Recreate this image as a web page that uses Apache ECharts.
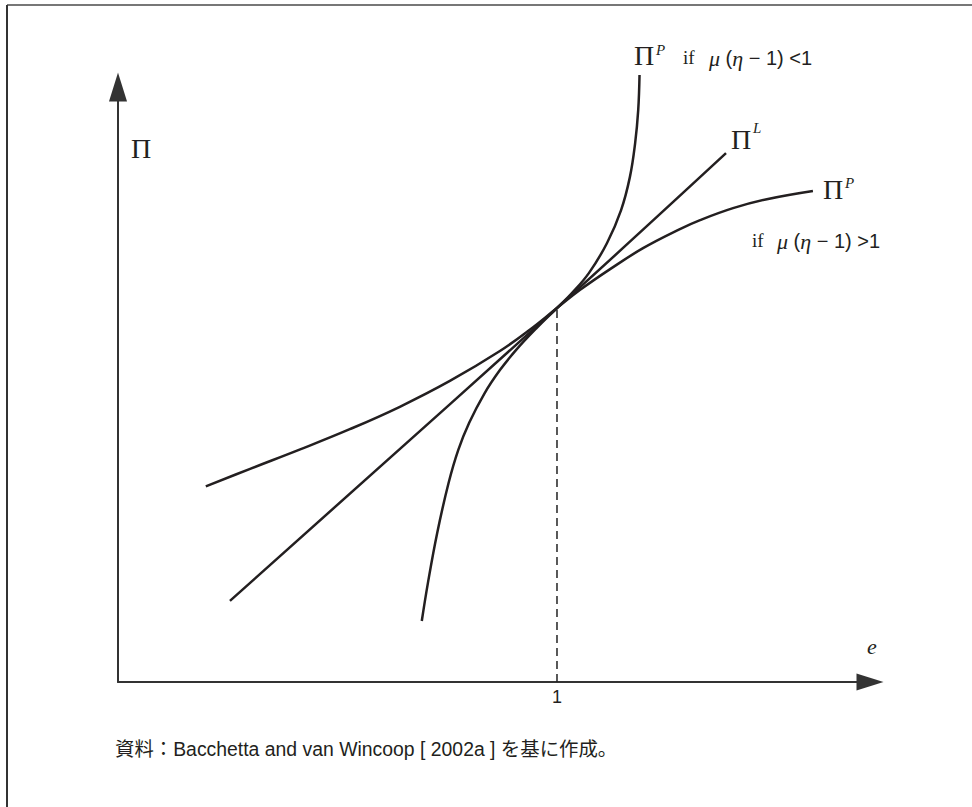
<!DOCTYPE html>
<html>
<head>
<meta charset="utf-8">
<script src="https://cdn.jsdelivr.net/npm/echarts@6/dist/echarts.min.js"></script>
<style>
  html, body { margin: 0; padding: 0; background: #fff; }
  #chart { width: 972px; height: 807px; }
</style>
</head>
<body>
<div id="chart"></div>
<script>
// flatter profit curve, if mu(eta-1) > 1
const flatX = [0.200, 0.301, 0.415, 0.528, 0.642, 0.756, 0.870, 0.938, 1.000, 1.052, 1.121, 1.196, 1.280, 1.326, 1.401, 1.478, 1.583]
const flatY = [0.523, 0.570, 0.622, 0.676, 0.736, 0.805, 0.885, 0.942, 1.000, 1.048, 1.104, 1.160, 1.211, 1.235, 1.267, 1.291, 1.313]
// steeper profit curve, if mu(eta-1) < 1
const steepX = [0.692, 0.706, 0.727, 0.753, 0.775, 0.800, 0.834, 0.870, 0.907, 0.954, 1.000, 1.034, 1.073, 1.114, 1.146, 1.166, 1.178, 1.185, 1.188]
const steepY = [0.163, 0.265, 0.398, 0.532, 0.620, 0.693, 0.770, 0.834, 0.888, 0.947, 1.000, 1.040, 1.094, 1.174, 1.262, 1.350, 1.441, 1.529, 1.623]
// local currency pricing line
const linX = [0.255, 1.000, 1.385]
const linY = [0.217, 1.000, 1.414]
// the e = 1 guide
const guideX = [1, 1]
const guideY = [0, 1]
const tickLabels = { 1: '1' }

const ink = '#231f20'
const serif = '"Liberation Serif", "DejaVu Serif", serif'
const sans = '"Liberation Sans", Arial, sans-serif'

function pairs(xs, ys) {
  return xs.map((x, i) => [x, ys[i]])
}

const myChart = echarts.init(document.getElementById('chart'), null, { renderer: 'svg' })

const curve = (name, data) => ({
  name: name,
  type: 'line',
  data: data,
  smooth: 0.4,
  symbol: 'none',
  clip: false,
  lineStyle: { color: ink, width: 2.5 },
  silent: true
})

const mathRich = {
  m: { fontFamily: serif, fontStyle: 'italic', fontSize: 22, fill: ink },
  s: { fontFamily: sans, fontSize: 20, fill: ink }
}

const option = {
  animation: false,
  backgroundColor: '#fff',
  grid: {
    left: 118,
    top: 87,
    width: 752,
    height: 595,
    containLabel: false,
    outerBoundsMode: 'none'
  },
  xAxis: {
    type: 'value',
    min: 0,
    max: 1.713,
    interval: 1,
    axisLine: {
      onZero: false,
      symbol: ['none', 'triangle'],
      symbolSize: [17, 27],
      lineStyle: { color: '#333', width: 2 }
    },
    axisTick: { show: false },
    splitLine: { show: false },
    axisLabel: {
      margin: 6,
      showMinLabel: false,
      showMaxLabel: false,
      fontFamily: 'Liberation Sans',
      fontSize: 18,
      color: ink,
      formatter: v => tickLabels[v] || ''
    }
  },
  yAxis: {
    type: 'value',
    min: 0,
    max: 1.591,
    axisLine: {
      onZero: false,
      symbol: ['none', 'triangle'],
      symbolSize: [18, 29],
      lineStyle: { color: '#333', width: 2 }
    },
    axisTick: { show: false },
    splitLine: { show: false },
    axisLabel: { show: false }
  },
  series: [
    curve('flat', pairs(flatX, flatY)),
    curve('steep', pairs(steepX, steepY)),
    curve('linear', pairs(linX, linY)),
    {
      name: 'guide',
      type: 'line',
      data: pairs(guideX, guideY),
      symbol: 'none',
      silent: true,
      lineStyle: { color: '#222', width: 1.5, type: [8, 5] }
    }
  ],
  graphic: [
    // frame
    { type: 'line', shape: { x1: 7, y1: 5, x2: 972, y2: 5 }, style: { stroke: '#777', lineWidth: 2 } },
    { type: 'line', shape: { x1: 7, y1: 5, x2: 7, y2: 807 }, style: { stroke: '#333', lineWidth: 2 } },
    // axis titles
    { type: 'text', x: 131, y: 148, style: { text: 'Π', font: '28px ' + serif, fill: ink, textVerticalAlign: 'middle' } },
    { type: 'text', x: 867, y: 646, style: { text: 'e', font: 'italic 22px ' + serif, fill: ink, textVerticalAlign: 'middle' } },
    // top label
    { type: 'text', x: 634, y: 55, style: { text: 'Π', font: '28px ' + serif, fill: ink, textVerticalAlign: 'middle' } },
    { type: 'text', x: 656, y: 50, style: { text: 'P', font: 'italic 15px ' + serif, fill: ink, textVerticalAlign: 'middle' } },
    { type: 'text', x: 683, y: 57, style: { text: 'if', font: '19px ' + serif, fill: ink, textVerticalAlign: 'middle' } },
    { type: 'text', x: 709, y: 58, style: { text: '{m|μ}{s| (}{m|η}{s| − 1) <1}', rich: mathRich, textVerticalAlign: 'middle' } },
    // linear label
    { type: 'text', x: 731, y: 139, style: { text: 'Π', font: '28px ' + serif, fill: ink, textVerticalAlign: 'middle' } },
    { type: 'text', x: 753, y: 128, style: { text: 'L', font: 'italic 15px ' + serif, fill: ink, textVerticalAlign: 'middle' } },
    // right label
    { type: 'text', x: 823, y: 189, style: { text: 'Π', font: '28px ' + serif, fill: ink, textVerticalAlign: 'middle' } },
    { type: 'text', x: 845, y: 183, style: { text: 'P', font: 'italic 15px ' + serif, fill: ink, textVerticalAlign: 'middle' } },
    { type: 'text', x: 752, y: 240, style: { text: 'if', font: '19px ' + serif, fill: ink, textVerticalAlign: 'middle' } },
    { type: 'text', x: 777, y: 241, style: { text: '{m|μ}{s| (}{m|η}{s| − 1) >1}', rich: mathRich, textVerticalAlign: 'middle' } },
    // source note
    {
      type: 'text', x: 115, y: 749,
      style: {
        text: '資料：Bacchetta and van Wincoop [ 2002a ] を基に作成。',
        font: '19.4px "Liberation Sans", "Noto Sans CJK JP", sans-serif',
        fill: ink,
        textVerticalAlign: 'middle'
      }
    }
  ]
}

myChart.setOption(option)
window.onresize = function () {
  myChart.resize()
}
</script>
</body>
</html>
